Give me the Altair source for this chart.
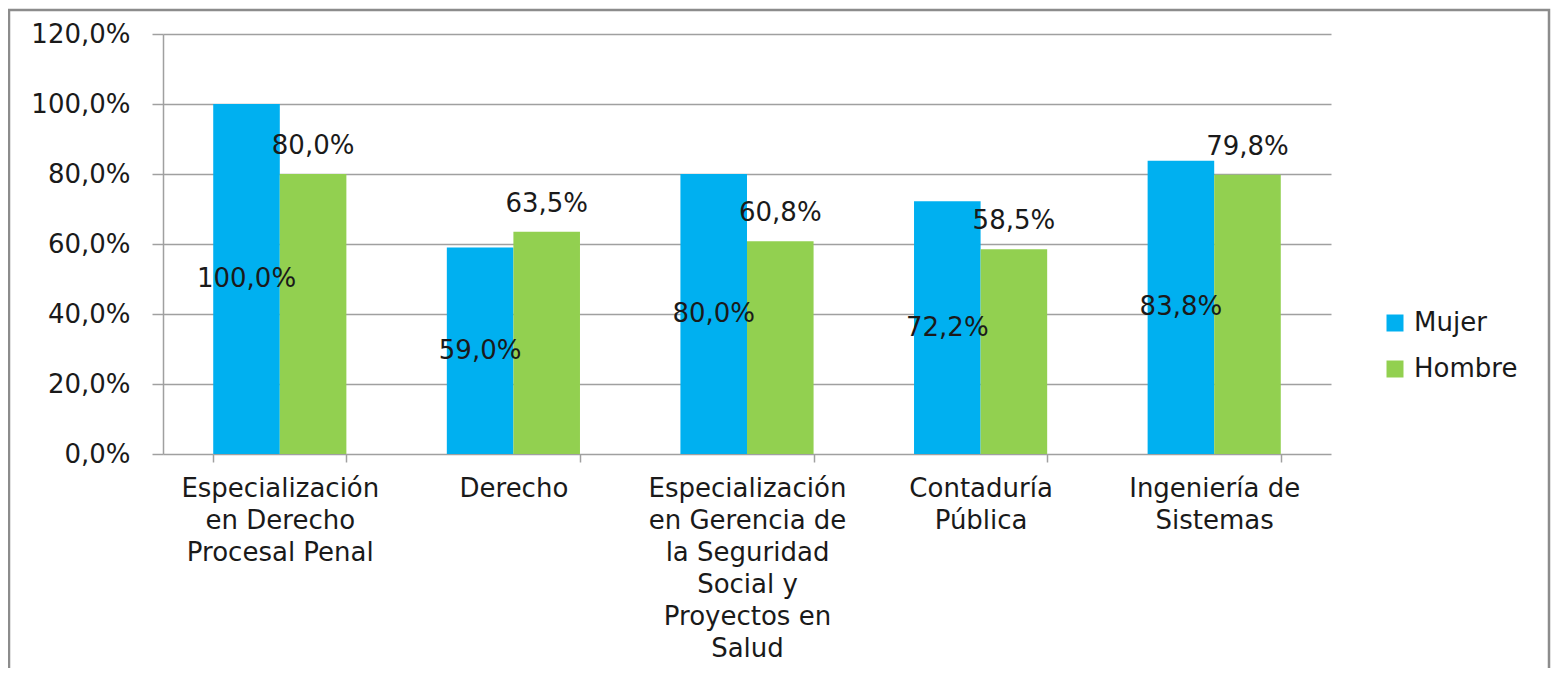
import altair as alt
import pandas as pd

categories = [
    "Especialización\nen Derecho\nProcesal Penal",
    "Derecho",
    "Especialización\nen Gerencia de\nla Seguridad\nSocial y\nProyectos en\nSalud",
    "Contaduría\nPública",
    "Ingeniería de\nSistemas",
]
series = ["Mujer", "Hombre"]
mujer = [100.0, 59.0, 80.0, 72.2, 83.8]
hombre = [80.0, 63.5, 60.8, 58.5, 79.8]
colors = ["#00B0F0", "#92D050"]
y_ticks = [0, 20, 40, 60, 80, 100, 120]

rows = []
for c, m, h in zip(categories, mujer, hombre):
    for s, v in (("Mujer", m), ("Hombre", h)):
        rows.append({
            "cat": c, "serie": s, "value": v,
            "half": v / 2.0,
            "label": f"{v:.1f}".replace(".", ",") + "%",
        })
df = pd.DataFrame(rows)

FONT = "DejaVu Sans"
FS = 26
TXT = "#1a1a1a"
GRID = "#a0a0a0"

x_enc = alt.X(
    "cat:N", sort=categories, title=None,
    scale=alt.Scale(paddingInner=0.43, paddingOuter=0.215),
    axis=alt.Axis(
        labelExpr="split(datum.label, '\\n')",
        labelAngle=0, labelFontSize=FS, labelFont=FONT, labelColor=TXT,
        labelLineHeight=32, labelBaseline="top", labelPadding=13,
        tickBand="extent", tickSize=8, tickColor=GRID, tickWidth=1.5,
        domain=False, grid=False, labelLimit=300,
    ),
)
y_scale = alt.Scale(domain=[0, 120])
y_axis = alt.Axis(
    values=y_ticks, title=None,
    labelExpr="replace(format(datum.value, '.1f'), '.', ',') + '%'",
    labelFontSize=FS, labelFont=FONT, labelColor=TXT, labelPadding=22,
    tickSize=11, tickColor=GRID, tickWidth=1.5,
    domainColor=GRID, domainWidth=1.5,
    grid=True, gridColor=GRID, gridWidth=1.5,
)
xoff = alt.XOffset("serie:N", sort=series, scale=alt.Scale(domain=series))

bars = alt.Chart(df).mark_bar().encode(
    x=x_enc,
    xOffset=xoff,
    y=alt.Y("value:Q", scale=y_scale, axis=y_axis),
    color=alt.Color(
        "serie:N", sort=series,
        scale=alt.Scale(domain=series, range=colors),
        legend=alt.Legend(
            title=None, orient="none", legendX=1219, legendY=276,
            symbolType="square", symbolSize=289, symbolStrokeWidth=0,
            labelFontSize=FS, labelFont=FONT, labelColor=TXT,
            rowPadding=20, symbolOffset=0, labelOffset=6,
        ),
    ),
)

text_m = alt.Chart(df).transform_filter(alt.datum.serie == "Mujer").mark_text(
    fontSize=FS, font=FONT, color=TXT, baseline="middle", align="center"
).encode(
    x=alt.X("cat:N", sort=categories),
    xOffset=xoff,
    y=alt.Y("half:Q", scale=y_scale),
    text="label:N",
)

text_h = alt.Chart(df).transform_filter(alt.datum.serie == "Hombre").mark_text(
    fontSize=FS, font=FONT, color=TXT, baseline="middle", align="center", dy=-28
).encode(
    x=alt.X("cat:N", sort=categories),
    xOffset=xoff,
    y=alt.Y("value:Q", scale=y_scale),
    text="label:N",
)

frame = alt.Chart(alt.Data(values=[{"k": 1}])).mark_rect(
    fill=None, stroke="#8c8c8c", strokeWidth=2.5, clip=False
).encode(
    x=alt.value(-154), x2=alt.value(1386),
    y=alt.value(-24), y2=alt.value(760),
)

chart = alt.layer(bars, text_m, text_h, frame).properties(
    width=1168, height=420,
    autosize=alt.AutoSizeParams(type="none"),
    padding={"left": 155, "top": 26, "right": 220, "bottom": 214},
).configure_view(stroke=None)

chart.save("out.html", embed_options={"renderer": "svg", "actions": False})
